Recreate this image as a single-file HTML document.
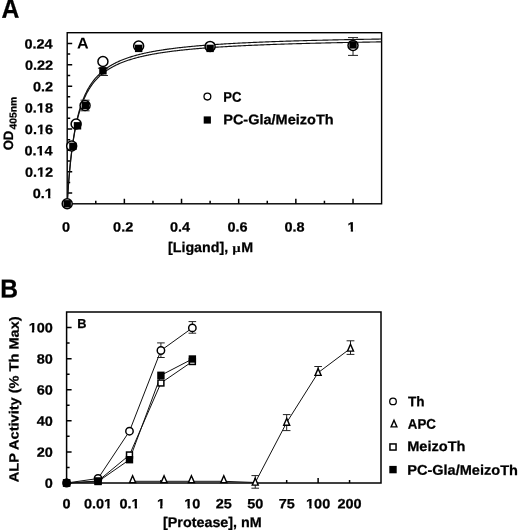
<!DOCTYPE html>
<html><head><meta charset="utf-8"><style>
html,body{margin:0;padding:0;background:#fff;}
svg{display:block;will-change:transform;}
text{font-family:"Liberation Sans",sans-serif;text-rendering:geometricPrecision;stroke:#000;stroke-width:0.25px;}
</style></head><body>
<svg width="520" height="531" viewBox="0 0 520 531">
<rect width="520" height="531" fill="#fff"/>
<path d="M67.20,203.8V198.8 M95.78,203.8V200.8 M124.36,203.8V198.8 M152.95,203.8V200.8 M181.53,203.8V198.8 M210.11,203.8V200.8 M238.69,203.8V198.8 M267.27,203.8V200.8 M295.85,203.8V198.8 M324.44,203.8V200.8 M353.02,203.8V198.8 M67.2,193.11H72.2 M67.2,182.41H70.2 M67.2,171.72H72.2 M67.2,161.03H70.2 M67.2,150.33H72.2 M67.2,139.64H70.2 M67.2,128.94H72.2 M67.2,118.25H70.2 M67.2,107.56H72.2 M67.2,96.86H70.2 M67.2,86.17H72.2 M67.2,75.47H70.2 M67.2,64.78H72.2 M67.2,54.09H70.2 M67.2,43.39H72.2" stroke="#000" stroke-width="1.5" fill="none"/>
<rect x="67.2" y="32.7" width="314.40000000000003" height="171.10000000000002" fill="none" stroke="#000" stroke-width="1.4"/>
<polyline points="67.20,203.80 67.20,203.77 67.21,203.67 67.22,203.50 67.23,203.27 67.25,202.97 67.27,202.61 67.30,202.18 67.33,201.69 67.36,201.14 67.40,200.52 67.44,199.85 67.48,199.12 67.53,198.34 67.59,197.50 67.64,196.60 67.70,195.66 67.77,194.67 67.84,193.63 67.91,192.54 67.99,191.41 68.07,190.25 68.15,189.04 68.24,187.80 68.33,186.52 68.43,185.21 68.53,183.87 68.63,182.50 68.74,181.11 68.85,179.69 68.97,178.26 69.09,176.80 69.21,175.33 69.34,173.84 69.47,172.34 69.61,170.82 69.75,169.30 69.89,167.77 70.04,166.23 70.19,164.69 70.34,163.14 70.50,161.59 70.67,160.05 70.83,158.50 71.00,156.95 71.18,155.41 71.36,153.88 71.54,152.35 71.73,150.82 71.92,149.31 72.11,147.80 72.31,146.30 72.51,144.82 72.72,143.34 72.93,141.88 73.14,140.43 73.36,138.99 73.58,137.56 73.81,136.15 74.04,134.75 74.27,133.37 74.51,132.00 74.75,130.65 75.00,129.31 75.25,127.99 75.50,126.69 75.76,125.40 76.02,124.13 76.29,122.87 76.56,121.63 76.83,120.41 77.11,119.20 77.39,118.01 77.67,116.84 77.96,115.69 78.25,114.55 78.55,113.43 78.85,112.32 79.16,111.23 79.46,110.16 79.78,109.10 80.09,108.06 80.41,107.03 80.74,106.02 81.07,105.03 81.40,104.05 81.73,103.09 82.07,102.14 82.42,101.21 82.76,100.29 83.12,99.39 83.47,98.50 83.83,97.63 84.20,96.77 84.56,95.92 84.93,95.09 85.31,94.27 85.69,93.47 86.07,92.67 86.46,91.90 86.85,91.13 87.24,90.38 87.64,89.63 88.05,88.90 88.45,88.19 88.86,87.48 89.28,86.79 89.70,86.10 90.12,85.43 90.55,84.77 90.98,84.12 91.41,83.48 91.85,82.85 92.29,82.24 92.74,81.63 93.19,81.03 93.64,80.44 94.10,79.86 94.56,79.29 95.03,78.73 95.50,78.18 95.97,77.64 96.45,77.10 96.93,76.58 97.41,76.06 97.90,75.55 98.40,75.05 98.89,74.56 99.39,74.08 99.90,73.60 100.41,73.13 100.92,72.67 101.44,72.22 101.96,71.77 102.48,71.33 103.01,70.89 103.54,70.47 104.08,70.05 104.62,69.63 105.17,69.23 105.71,68.83 106.27,68.43 106.82,68.04 107.38,67.66 107.95,67.29 108.51,66.91 109.09,66.55 109.66,66.19 110.24,65.84 110.82,65.49 111.41,65.14 112.00,64.80 112.60,64.47 113.20,64.14 113.80,63.82 114.41,63.50 115.02,63.18 115.64,62.88 116.25,62.57 116.88,62.27 117.50,61.97 118.13,61.68 118.77,61.39 119.41,61.11 120.05,60.83 120.70,60.56 121.35,60.28 122.00,60.02 122.66,59.75 123.32,59.49 123.99,59.24 124.66,58.98 125.33,58.73 126.01,58.49 126.69,58.24 127.38,58.01 128.07,57.77 128.76,57.54 129.46,57.31 130.16,57.08 130.87,56.86 131.58,56.64 132.29,56.42 133.01,56.21 133.73,55.99 134.45,55.79 135.18,55.58 135.91,55.38 136.65,55.18 137.39,54.98 138.14,54.78 138.89,54.59 139.64,54.40 140.39,54.21 141.15,54.03 141.92,53.85 142.69,53.67 143.46,53.49 144.24,53.31 145.02,53.14 145.80,52.97 146.59,52.80 147.38,52.63 148.18,52.47 148.98,52.30 149.78,52.14 150.59,51.98 151.40,51.83 152.21,51.67 153.03,51.52 153.86,51.37 154.68,51.22 155.51,51.07 156.35,50.92 157.19,50.78 158.03,50.64 158.88,50.50 159.73,50.36 160.58,50.22 161.44,50.09 162.31,49.95 163.17,49.82 164.04,49.69 164.92,49.56 165.80,49.43 166.68,49.31 167.56,49.18 168.45,49.06 169.35,48.94 170.25,48.82 171.15,48.70 172.05,48.58 172.96,48.46 173.88,48.35 174.80,48.23 175.72,48.12 176.64,48.01 177.57,47.90 178.51,47.79 179.44,47.68 180.38,47.58 181.33,47.47 182.28,47.37 183.23,47.27 184.19,47.16 185.15,47.06 186.11,46.96 187.08,46.86 188.06,46.77 189.03,46.67 190.01,46.58 191.00,46.48 191.99,46.39 192.98,46.30 193.97,46.21 194.97,46.11 195.98,46.03 196.99,45.94 198.00,45.85 199.01,45.76 200.03,45.68 201.06,45.59 202.09,45.51 203.12,45.43 204.15,45.34 205.19,45.26 206.24,45.18 207.28,45.10 208.33,45.02 209.39,44.95 210.45,44.87 211.51,44.79 212.58,44.72 213.65,44.64 214.72,44.57 215.80,44.49 216.89,44.42 217.97,44.35 219.06,44.28 220.16,44.21 221.26,44.14 222.36,44.07 223.46,44.00 224.57,43.93 225.69,43.86 226.81,43.80 227.93,43.73 229.06,43.67 230.18,43.60 231.32,43.54 232.46,43.47 233.60,43.41 234.74,43.35 235.89,43.29 237.05,43.23 238.20,43.17 239.37,43.11 240.53,43.05 241.70,42.99 242.87,42.93 244.05,42.87 245.23,42.82 246.42,42.76 247.60,42.70 248.80,42.65 249.99,42.59 251.19,42.54 252.40,42.48 253.61,42.43 254.82,42.38 256.04,42.32 257.26,42.27 258.48,42.22 259.71,42.17 260.94,42.12 262.18,42.07 263.42,42.02 264.66,41.97 265.91,41.92 267.16,41.87 268.42,41.82 269.68,41.77 270.94,41.73 272.21,41.68 273.48,41.63 274.75,41.59 276.03,41.54 277.32,41.50 278.60,41.45 279.89,41.41 281.19,41.36 282.49,41.32 283.79,41.28 285.10,41.23 286.41,41.19 287.72,41.15 289.04,41.11 290.36,41.06 291.69,41.02 293.02,40.98 294.35,40.94 295.69,40.90 297.03,40.86 298.38,40.82 299.73,40.78 301.08,40.74 302.44,40.70 303.80,40.67 305.17,40.63 306.54,40.59 307.91,40.55 309.29,40.52 310.67,40.48 312.06,40.44 313.45,40.41 314.84,40.37 316.24,40.34 317.64,40.30 319.04,40.27 320.45,40.23 321.86,40.20 323.28,40.16 324.70,40.13 326.13,40.09 327.55,40.06 328.99,40.03 330.42,39.99 331.86,39.96 333.31,39.93 334.76,39.90 336.21,39.87 337.66,39.83 339.12,39.80 340.59,39.77 342.06,39.74 343.53,39.71 345.00,39.68 346.48,39.65 347.97,39.62 349.45,39.59 350.95,39.56 352.44,39.53 353.94,39.50 355.44,39.47 356.95,39.44 358.46,39.42 359.98,39.39 361.50,39.36 363.02,39.33 364.55,39.30 366.08,39.28 367.61,39.25 369.15,39.22 370.69,39.20 372.24,39.17 373.79,39.14 375.34,39.12 376.90,39.09 378.46,39.06 380.03,39.04 381.60,39.01" fill="none" stroke="#111" stroke-width="1.15"/>
<polyline points="67.20,203.80 67.20,203.77 67.21,203.67 67.22,203.51 67.23,203.28 67.25,202.98 67.27,202.63 67.30,202.21 67.33,201.73 67.36,201.18 67.40,200.58 67.44,199.92 67.48,199.20 67.53,198.43 67.59,197.61 67.64,196.73 67.70,195.80 67.77,194.82 67.84,193.80 67.91,192.74 67.99,191.63 68.07,190.48 68.15,189.29 68.24,188.07 68.33,186.82 68.43,185.53 68.53,184.21 68.63,182.87 68.74,181.50 68.85,180.11 68.97,178.70 69.09,177.27 69.21,175.82 69.34,174.36 69.47,172.88 69.61,171.39 69.75,169.89 69.89,168.39 70.04,166.88 70.19,165.36 70.34,163.84 70.50,162.32 70.67,160.80 70.83,159.28 71.00,157.76 71.18,156.25 71.36,154.74 71.54,153.24 71.73,151.74 71.92,150.25 72.11,148.77 72.31,147.30 72.51,145.84 72.72,144.39 72.93,142.95 73.14,141.52 73.36,140.11 73.58,138.71 73.81,137.32 74.04,135.95 74.27,134.59 74.51,133.24 74.75,131.91 75.00,130.60 75.25,129.30 75.50,128.02 75.76,126.75 76.02,125.50 76.29,124.27 76.56,123.05 76.83,121.85 77.11,120.67 77.39,119.50 77.67,118.35 77.96,117.21 78.25,116.09 78.55,114.99 78.85,113.90 79.16,112.83 79.46,111.78 79.78,110.74 80.09,109.71 80.41,108.71 80.74,107.72 81.07,106.74 81.40,105.78 81.73,104.83 82.07,103.90 82.42,102.99 82.76,102.08 83.12,101.20 83.47,100.32 83.83,99.47 84.20,98.62 84.56,97.79 84.93,96.97 85.31,96.17 85.69,95.38 86.07,94.60 86.46,93.83 86.85,93.08 87.24,92.34 87.64,91.61 88.05,90.89 88.45,90.19 88.86,89.49 89.28,88.81 89.70,88.14 90.12,87.48 90.55,86.83 90.98,86.19 91.41,85.56 91.85,84.95 92.29,84.34 92.74,83.74 93.19,83.15 93.64,82.57 94.10,82.01 94.56,81.45 95.03,80.89 95.50,80.35 95.97,79.82 96.45,79.30 96.93,78.78 97.41,78.27 97.90,77.77 98.40,77.28 98.89,76.80 99.39,76.32 99.90,75.85 100.41,75.39 100.92,74.94 101.44,74.49 101.96,74.05 102.48,73.62 103.01,73.19 103.54,72.77 104.08,72.36 104.62,71.96 105.17,71.56 105.71,71.16 106.27,70.77 106.82,70.39 107.38,70.02 107.95,69.65 108.51,69.28 109.09,68.92 109.66,68.57 110.24,68.22 110.82,67.88 111.41,67.54 112.00,67.21 112.60,66.88 113.20,66.56 113.80,66.24 114.41,65.93 115.02,65.62 115.64,65.31 116.25,65.01 116.88,64.72 117.50,64.43 118.13,64.14 118.77,63.86 119.41,63.58 120.05,63.30 120.70,63.03 121.35,62.77 122.00,62.50 122.66,62.24 123.32,61.99 123.99,61.74 124.66,61.49 125.33,61.24 126.01,61.00 126.69,60.76 127.38,60.53 128.07,60.30 128.76,60.07 129.46,59.84 130.16,59.62 130.87,59.40 131.58,59.18 132.29,58.97 133.01,58.76 133.73,58.55 134.45,58.35 135.18,58.14 135.91,57.94 136.65,57.75 137.39,57.55 138.14,57.36 138.89,57.17 139.64,56.99 140.39,56.80 141.15,56.62 141.92,56.44 142.69,56.26 143.46,56.09 144.24,55.91 145.02,55.74 145.80,55.58 146.59,55.41 147.38,55.24 148.18,55.08 148.98,54.92 149.78,54.76 150.59,54.61 151.40,54.45 152.21,54.30 153.03,54.15 153.86,54.00 154.68,53.86 155.51,53.71 156.35,53.57 157.19,53.43 158.03,53.29 158.88,53.15 159.73,53.01 160.58,52.88 161.44,52.74 162.31,52.61 163.17,52.48 164.04,52.35 164.92,52.23 165.80,52.10 166.68,51.98 167.56,51.86 168.45,51.73 169.35,51.61 170.25,51.50 171.15,51.38 172.05,51.26 172.96,51.15 173.88,51.04 174.80,50.92 175.72,50.81 176.64,50.70 177.57,50.60 178.51,50.49 179.44,50.38 180.38,50.28 181.33,50.18 182.28,50.07 183.23,49.97 184.19,49.87 185.15,49.77 186.11,49.68 187.08,49.58 188.06,49.48 189.03,49.39 190.01,49.30 191.00,49.20 191.99,49.11 192.98,49.02 193.97,48.93 194.97,48.84 195.98,48.75 196.99,48.67 198.00,48.58 199.01,48.50 200.03,48.41 201.06,48.33 202.09,48.25 203.12,48.17 204.15,48.08 205.19,48.00 206.24,47.93 207.28,47.85 208.33,47.77 209.39,47.69 210.45,47.62 211.51,47.54 212.58,47.47 213.65,47.39 214.72,47.32 215.80,47.25 216.89,47.18 217.97,47.11 219.06,47.04 220.16,46.97 221.26,46.90 222.36,46.83 223.46,46.76 224.57,46.70 225.69,46.63 226.81,46.57 227.93,46.50 229.06,46.44 230.18,46.37 231.32,46.31 232.46,46.25 233.60,46.19 234.74,46.12 235.89,46.06 237.05,46.00 238.20,45.94 239.37,45.89 240.53,45.83 241.70,45.77 242.87,45.71 244.05,45.66 245.23,45.60 246.42,45.54 247.60,45.49 248.80,45.43 249.99,45.38 251.19,45.33 252.40,45.27 253.61,45.22 254.82,45.17 256.04,45.12 257.26,45.07 258.48,45.01 259.71,44.96 260.94,44.91 262.18,44.86 263.42,44.82 264.66,44.77 265.91,44.72 267.16,44.67 268.42,44.62 269.68,44.58 270.94,44.53 272.21,44.48 273.48,44.44 274.75,44.39 276.03,44.35 277.32,44.30 278.60,44.26 279.89,44.22 281.19,44.17 282.49,44.13 283.79,44.09 285.10,44.04 286.41,44.00 287.72,43.96 289.04,43.92 290.36,43.88 291.69,43.84 293.02,43.80 294.35,43.76 295.69,43.72 297.03,43.68 298.38,43.64 299.73,43.60 301.08,43.56 302.44,43.53 303.80,43.49 305.17,43.45 306.54,43.41 307.91,43.38 309.29,43.34 310.67,43.30 312.06,43.27 313.45,43.23 314.84,43.20 316.24,43.16 317.64,43.13 319.04,43.09 320.45,43.06 321.86,43.03 323.28,42.99 324.70,42.96 326.13,42.93 327.55,42.89 328.99,42.86 330.42,42.83 331.86,42.80 333.31,42.76 334.76,42.73 336.21,42.70 337.66,42.67 339.12,42.64 340.59,42.61 342.06,42.58 343.53,42.55 345.00,42.52 346.48,42.49 347.97,42.46 349.45,42.43 350.95,42.40 352.44,42.37 353.94,42.34 355.44,42.31 356.95,42.29 358.46,42.26 359.98,42.23 361.50,42.20 363.02,42.18 364.55,42.15 366.08,42.12 367.61,42.09 369.15,42.07 370.69,42.04 372.24,42.02 373.79,41.99 375.34,41.96 376.90,41.94 378.46,41.91 380.03,41.89 381.60,41.86" fill="none" stroke="#111" stroke-width="1.15"/>
<path d="M353.02,37.60V55.40M348.02,37.60H358.02M348.02,55.40H358.02" stroke="#222" stroke-width="1" fill="none"/>
<path d="M102.93,68.20V75.50M97.93,68.20H107.93M97.93,75.50H107.93" stroke="#222" stroke-width="1" fill="none"/>
<path d="M85.06,100.20V110.80M80.56,100.20H89.56M80.56,110.80H89.56" stroke="#222" stroke-width="1" fill="none"/>
<circle cx="67.20" cy="203.80" r="5.0" fill="#fff" stroke="#000" stroke-width="1.5"/>
<circle cx="71.67" cy="146.00" r="5.0" fill="#fff" stroke="#000" stroke-width="1.5"/>
<circle cx="76.13" cy="124.00" r="5.0" fill="#fff" stroke="#000" stroke-width="1.5"/>
<circle cx="85.06" cy="105.50" r="5.0" fill="#fff" stroke="#000" stroke-width="1.5"/>
<circle cx="102.93" cy="61.50" r="5.0" fill="#fff" stroke="#000" stroke-width="1.5"/>
<circle cx="138.65" cy="46.00" r="5.0" fill="#fff" stroke="#000" stroke-width="1.5"/>
<circle cx="210.11" cy="46.40" r="5.0" fill="#fff" stroke="#000" stroke-width="1.5"/>
<circle cx="353.02" cy="45.50" r="5.0" fill="#fff" stroke="#000" stroke-width="1.5"/>
<rect x="63.50" y="200.10" width="7.4" height="7.4" fill="#000"/>
<rect x="69.20" y="142.60" width="7.4" height="7.4" fill="#000"/>
<rect x="73.80" y="122.10" width="7.4" height="7.4" fill="#000"/>
<rect x="81.60" y="101.70" width="7.4" height="7.4" fill="#000"/>
<rect x="99.23" y="67.10" width="7.4" height="7.4" fill="#000"/>
<rect x="134.95" y="44.70" width="7.4" height="7.4" fill="#000"/>
<rect x="206.41" y="44.70" width="7.4" height="7.4" fill="#000"/>
<rect x="349.32" y="41.20" width="7.4" height="7.4" fill="#000"/>
<text transform="translate(32.78,198.11) rotate(0.05) scale(1.0800,1.0000)" font-size="13.4" font-weight="bold" fill="#000">0.1</text>
<text transform="translate(24.91,176.72) rotate(0.05) scale(1.0800,1.0000)" font-size="13.4" font-weight="bold" fill="#000">0.12</text>
<text transform="translate(24.41,155.33) rotate(0.05) scale(1.0800,1.0000)" font-size="13.4" font-weight="bold" fill="#000">0.14</text>
<text transform="translate(24.86,133.94) rotate(0.05) scale(1.0800,1.0000)" font-size="13.4" font-weight="bold" fill="#000">0.16</text>
<text transform="translate(24.78,112.56) rotate(0.05) scale(1.0800,1.0000)" font-size="13.4" font-weight="bold" fill="#000">0.18</text>
<text transform="translate(32.96,91.17) rotate(0.05) scale(1.0800,1.0000)" font-size="13.4" font-weight="bold" fill="#000">0.2</text>
<text transform="translate(24.91,69.78) rotate(0.05) scale(1.0800,1.0000)" font-size="13.4" font-weight="bold" fill="#000">0.22</text>
<text transform="translate(24.41,48.39) rotate(0.05) scale(1.0800,1.0000)" font-size="13.4" font-weight="bold" fill="#000">0.24</text>
<text transform="translate(61.99,231.40) rotate(0.05) scale(1.0800,1.0000)" font-size="13.4" font-weight="bold" fill="#000">0</text>
<text transform="translate(113.11,231.40) rotate(0.05) scale(1.0800,1.0000)" font-size="13.4" font-weight="bold" fill="#000">0.2</text>
<text transform="translate(170.02,231.40) rotate(0.05) scale(1.0800,1.0000)" font-size="13.4" font-weight="bold" fill="#000">0.4</text>
<text transform="translate(227.41,231.40) rotate(0.05) scale(1.0800,1.0000)" font-size="13.4" font-weight="bold" fill="#000">0.6</text>
<text transform="translate(284.53,231.40) rotate(0.05) scale(1.0800,1.0000)" font-size="13.4" font-weight="bold" fill="#000">0.8</text>
<text transform="translate(347.54,231.40) rotate(0.05) scale(1.0800,1.0000)" font-size="13.4" font-weight="bold" fill="#000">1</text>
<text transform="translate(168.00,251.90) rotate(0.05) scale(1.0173,1.0000)" font-size="14" font-weight="bold" fill="#000">[Ligand], </text>
<text transform="translate(232.35,252.0) rotate(0.05) scale(1.15,1)" font-family="Liberation Serif" font-size="12.8" font-weight="bold" style="font-family:'Liberation Serif',serif;stroke-width:0.1px">&#181;</text>
<text transform="translate(241.35,251.90) rotate(0.05) scale(1.0173,1.0000)" font-size="14" font-weight="bold" fill="#000">M</text>
<text transform="translate(13.00,150.34) rotate(-89.95) scale(0.9652,1)" font-size="13.6" font-weight="bold">OD</text>
<text transform="translate(16.40,129.46) rotate(-89.95) scale(1.0287,1)" font-size="10" font-weight="bold">405nm</text>
<text transform="translate(1.38,17.70) rotate(0.05) scale(1.0099,1.1000)" font-size="24.5" font-weight="bold" fill="#000">A</text>
<text style="stroke-width:0" transform="translate(77.10,48.40) rotate(0.05) scale(1.0319,1.0000)" font-size="15.6" font-weight="bold" fill="#000">A</text>
<circle cx="207.4" cy="96.6" r="3.4" fill="#fff" stroke="#000" stroke-width="1.3"/>
<text transform="translate(223.33,101.70) rotate(0.05) scale(0.9322,1.0000)" font-size="14" font-weight="bold" fill="#000">PC</text>
<rect x="203.70000000000002" y="116.4" width="7.2" height="7.2" fill="#000"/>
<text transform="translate(223.23,124.20) rotate(0.05) scale(1.0358,1.0000)" font-size="14" font-weight="bold" fill="#000">PC-Gla/MeizoTh</text>
<path d="M66.60,483.0V478.0 M98.04,483.0V480.0 M160.92,483.0V480.0 M192.36,483.0V478.0 M223.80,483.0V480.0 M255.24,483.0V478.0 M286.68,483.0V480.0 M318.12,483.0V478.0 M349.56,483.0V480.0 M66.6,483.00H71.6 M66.6,467.45H69.6 M66.6,451.91H71.6 M66.6,436.36H69.6 M66.6,420.82H71.6 M66.6,405.27H69.6 M66.6,389.73H71.6 M66.6,374.18H69.6 M66.6,358.64H71.6 M66.6,343.09H69.6 M66.6,327.55H71.6" stroke="#000" stroke-width="1.5" fill="none"/>
<rect x="66.6" y="312.0" width="314.4" height="171.0" fill="none" stroke="#000" stroke-width="1.5"/>
<polyline points="66.60,483.00 98.04,478.50 129.48,431.20 160.92,350.50 192.36,327.90" fill="none" stroke="#111" stroke-width="1"/>
<polyline points="66.60,483.00 98.04,481.00 129.48,455.00 160.92,383.00 192.36,361.50" fill="none" stroke="#111" stroke-width="1"/>
<polyline points="66.60,483.00 98.04,481.50 129.48,459.70 160.92,375.30 192.36,359.00" fill="none" stroke="#111" stroke-width="1"/>
<polyline points="132.62,481.30 164.06,481.30 191.42,481.30 223.80,481.30 255.24,482.50 286.68,422.50 318.12,372.70 350.50,348.40" fill="none" stroke="#111" stroke-width="1"/>
<path d="M160.92,342.90V357.50M157.12,342.90H164.72M157.12,357.50H164.72" stroke="#222" stroke-width="1" fill="none"/>
<path d="M192.36,321.60V333.20M188.56,321.60H196.16M188.56,333.20H196.16" stroke="#222" stroke-width="1" fill="none"/>
<path d="M255.24,475.60V488.20M251.44,475.60H259.04M251.44,488.20H259.04" stroke="#222" stroke-width="1" fill="none"/>
<path d="M286.68,414.60V430.60M282.88,414.60H290.48M282.88,430.60H290.48" stroke="#222" stroke-width="1" fill="none"/>
<path d="M318.12,366.50V375.50M314.32,366.50H321.92M314.32,375.50H321.92" stroke="#222" stroke-width="1" fill="none"/>
<path d="M350.50,340.80V354.40M346.60,340.80H354.40M346.60,354.40H354.40" stroke="#222" stroke-width="1" fill="none"/>
<path d="M132.62,475.80L135.62,482.60H129.62Z" fill="#fff" stroke="#000" stroke-width="1.4" stroke-linejoin="miter"/>
<path d="M164.06,475.80L167.06,482.60H161.06Z" fill="#fff" stroke="#000" stroke-width="1.4" stroke-linejoin="miter"/>
<path d="M191.42,475.80L194.42,482.60H188.42Z" fill="#fff" stroke="#000" stroke-width="1.4" stroke-linejoin="miter"/>
<path d="M223.80,475.80L226.80,482.60H220.80Z" fill="#fff" stroke="#000" stroke-width="1.4" stroke-linejoin="miter"/>
<path d="M255.24,478.30L258.24,485.10H252.24Z" fill="#fff" stroke="#000" stroke-width="1.4" stroke-linejoin="miter"/>
<path d="M286.68,418.40L289.68,425.20H283.68Z" fill="#fff" stroke="#000" stroke-width="1.4" stroke-linejoin="miter"/>
<path d="M318.12,368.60L321.12,375.40H315.12Z" fill="#fff" stroke="#000" stroke-width="1.4" stroke-linejoin="miter"/>
<path d="M350.50,344.30L353.50,351.10H347.50Z" fill="#fff" stroke="#000" stroke-width="1.4" stroke-linejoin="miter"/>
<circle cx="66.60" cy="483.00" r="3.7" fill="#fff" stroke="#000" stroke-width="1.45"/>
<circle cx="98.04" cy="478.50" r="3.7" fill="#fff" stroke="#000" stroke-width="1.45"/>
<circle cx="129.48" cy="431.20" r="3.7" fill="#fff" stroke="#000" stroke-width="1.45"/>
<circle cx="160.92" cy="350.50" r="3.7" fill="#fff" stroke="#000" stroke-width="1.45"/>
<circle cx="192.36" cy="327.90" r="3.7" fill="#fff" stroke="#000" stroke-width="1.45"/>
<rect x="63.65" y="480.05" width="5.90" height="5.90" fill="#fff" stroke="#000" stroke-width="1.5"/>
<rect x="95.09" y="478.05" width="5.90" height="5.90" fill="#fff" stroke="#000" stroke-width="1.5"/>
<rect x="126.53" y="452.05" width="5.90" height="5.90" fill="#fff" stroke="#000" stroke-width="1.5"/>
<rect x="157.97" y="380.05" width="5.90" height="5.90" fill="#fff" stroke="#000" stroke-width="1.5"/>
<rect x="189.41" y="358.55" width="5.90" height="5.90" fill="#fff" stroke="#000" stroke-width="1.5"/>
<rect x="62.90" y="479.30" width="7.4" height="7.4" fill="#000"/>
<rect x="94.34" y="477.80" width="7.4" height="7.4" fill="#000"/>
<rect x="125.78" y="456.00" width="7.4" height="7.4" fill="#000"/>
<rect x="157.22" y="371.60" width="7.4" height="7.4" fill="#000"/>
<rect x="188.66" y="355.30" width="7.4" height="7.4" fill="#000"/>
<text transform="translate(44.74,487.80) rotate(0.05) scale(1.0800,1.0000)" font-size="13.4" font-weight="bold" fill="#000">0</text>
<text transform="translate(36.70,456.71) rotate(0.05) scale(1.0800,1.0000)" font-size="13.4" font-weight="bold" fill="#000">20</text>
<text transform="translate(36.70,425.62) rotate(0.05) scale(1.0800,1.0000)" font-size="13.4" font-weight="bold" fill="#000">40</text>
<text transform="translate(36.70,394.53) rotate(0.05) scale(1.0800,1.0000)" font-size="13.4" font-weight="bold" fill="#000">60</text>
<text transform="translate(36.70,363.44) rotate(0.05) scale(1.0800,1.0000)" font-size="13.4" font-weight="bold" fill="#000">80</text>
<text transform="translate(28.65,332.35) rotate(0.05) scale(1.0800,1.0000)" font-size="13.4" font-weight="bold" fill="#000">100</text>
<text transform="translate(62.58,508.2) rotate(0.05) scale(1.08,1)" font-size="13.4" font-weight="bold">0</text>
<text transform="translate(83.96,508.2) rotate(0.05) scale(1.08,1)" font-size="13.4" font-weight="bold">0.01</text>
<text transform="translate(119.42,508.2) rotate(0.05) scale(1.08,1)" font-size="13.4" font-weight="bold">0.1</text>
<text transform="translate(156.90,508.2) rotate(0.05) scale(1.08,1)" font-size="13.4" font-weight="bold">1</text>
<text transform="translate(184.31,508.2) rotate(0.05) scale(1.08,1)" font-size="13.4" font-weight="bold">10</text>
<text transform="translate(215.75,508.2) rotate(0.05) scale(1.08,1)" font-size="13.4" font-weight="bold">25</text>
<text transform="translate(247.19,508.2) rotate(0.05) scale(1.08,1)" font-size="13.4" font-weight="bold">50</text>
<text transform="translate(278.63,508.2) rotate(0.05) scale(1.08,1)" font-size="13.4" font-weight="bold">75</text>
<text transform="translate(306.05,508.2) rotate(0.05) scale(1.08,1)" font-size="13.4" font-weight="bold">100</text>
<text transform="translate(337.49,508.2) rotate(0.05) scale(1.08,1)" font-size="13.4" font-weight="bold">200</text>
<text transform="translate(163.00,527.00) rotate(0.05) scale(1.0239,1.0000)" font-size="14" font-weight="bold" fill="#000">[Protease], nM</text>
<text transform="translate(18.50,482.26) rotate(-89.95) scale(1.0950,1)" font-size="13.3" font-weight="bold">ALP Activity (% Th Max)</text>
<text transform="translate(0.25,297.60) rotate(0.05) scale(1.0039,1.0600)" font-size="24.5" font-weight="bold" fill="#000">B</text>
<text transform="translate(77.24,328.00) rotate(0.05) scale(0.9838,1.0000)" font-size="13" font-weight="bold" fill="#000">B</text>
<circle cx="393.0" cy="401.4" r="3.3" fill="#fff" stroke="#000" stroke-width="1.3"/>
<path d="M394.00,420.3L396.90,426.9H391.10Z" fill="#fff" stroke="#000" stroke-width="1.4"/>
<rect x="389.95" y="443.95" width="6.1" height="6.1" fill="#fff" stroke="#000" stroke-width="1.5"/>
<rect x="389.30" y="465.90" width="7.4" height="7.4" fill="#000"/>
<text transform="translate(408.05,406.20) rotate(0.05) scale(0.9703,1.0000)" font-size="14" font-weight="bold" fill="#000">Th</text>
<text transform="translate(407.87,428.80) rotate(0.05) scale(0.9505,1.0000)" font-size="14" font-weight="bold" fill="#000">APC</text>
<text transform="translate(407.23,451.00) rotate(0.05) scale(1.0408,1.0000)" font-size="14" font-weight="bold" fill="#000">MeizoTh</text>
<text transform="translate(407.23,474.80) rotate(0.05) scale(1.0386,1.0000)" font-size="14" font-weight="bold" fill="#000">PC-Gla/MeizoTh</text>
<rect x="44.85" y="195.74" width="3.21" height="3.17" fill="#fff"/>
<rect x="50.40" y="195.74" width="2.78" height="3.17" fill="#fff"/>
<rect x="36.98" y="174.35" width="3.21" height="3.17" fill="#fff"/>
<rect x="42.52" y="174.35" width="2.78" height="3.17" fill="#fff"/>
<rect x="36.48" y="152.96" width="3.21" height="3.17" fill="#fff"/>
<rect x="42.02" y="152.96" width="2.78" height="3.17" fill="#fff"/>
<rect x="36.93" y="131.58" width="3.21" height="3.17" fill="#fff"/>
<rect x="42.47" y="131.58" width="2.78" height="3.17" fill="#fff"/>
<rect x="36.85" y="110.19" width="3.21" height="3.17" fill="#fff"/>
<rect x="42.39" y="110.19" width="2.78" height="3.17" fill="#fff"/>
<rect x="347.54" y="229.03" width="3.21" height="3.17" fill="#fff"/>
<rect x="353.08" y="229.03" width="2.78" height="3.17" fill="#fff"/>
<rect x="28.65" y="329.98" width="3.21" height="3.17" fill="#fff"/>
<rect x="34.19" y="329.98" width="2.78" height="3.17" fill="#fff"/>
<rect x="104.07" y="505.83" width="3.21" height="3.17" fill="#fff"/>
<rect x="109.62" y="505.83" width="2.78" height="3.17" fill="#fff"/>
<rect x="131.49" y="505.83" width="3.21" height="3.17" fill="#fff"/>
<rect x="137.03" y="505.83" width="2.78" height="3.17" fill="#fff"/>
<rect x="156.90" y="505.83" width="3.21" height="3.17" fill="#fff"/>
<rect x="162.44" y="505.83" width="2.78" height="3.17" fill="#fff"/>
<rect x="184.31" y="505.83" width="3.21" height="3.17" fill="#fff"/>
<rect x="189.85" y="505.83" width="2.78" height="3.17" fill="#fff"/>
<rect x="306.05" y="505.83" width="3.21" height="3.17" fill="#fff"/>
<rect x="311.59" y="505.83" width="2.78" height="3.17" fill="#fff"/>
</svg>
</body></html>
